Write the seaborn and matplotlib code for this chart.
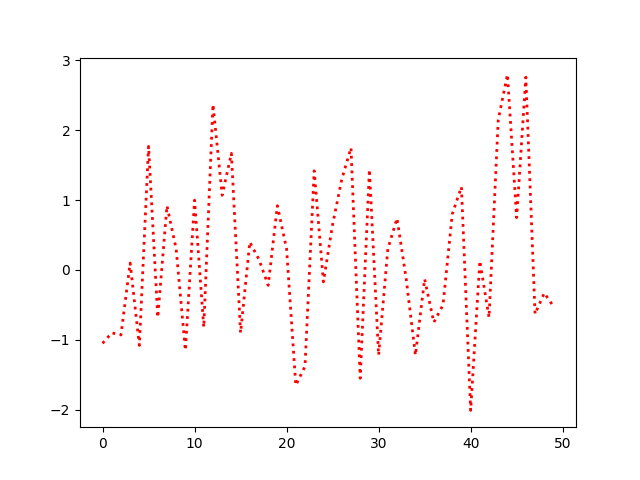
import numpy as np
import pandas as pd
import matplotlib
matplotlib.use("Agg")
import matplotlib.pyplot as plt
import seaborn as sns

# values at x = 0..49
x = list(range(50))
y = [-1.05, -0.9, -0.93, 0.1, -1.08, 1.77, -0.68, 0.92, 0.3, -1.15,
     1.0, -0.82, 2.37, 1.07, 1.67, -0.9, 0.4, 0.15, -0.22, 0.92,
     0.3, -1.65, -1.38, 1.42, -0.17, 0.65, 1.3, 1.75, -1.55, 1.44,
     -1.22, 0.3, 0.74, -0.13, -1.22, -0.13, -0.75, -0.5, 0.8, 1.19,
     -2.01, 0.13, -0.68, 2.15, 2.80, 0.75, 2.76, -0.63, -0.33, -0.52]

df = pd.DataFrame({"x": x, "y": y})

fig, ax = plt.subplots(figsize=(6.4, 4.8), dpi=100)
sns.lineplot(data=df, x="x", y="y", ax=ax, color="red", linestyle=":", linewidth=2)
ax.set_xlabel("")
ax.set_ylabel("")

fig.savefig("out.png", dpi=100)
